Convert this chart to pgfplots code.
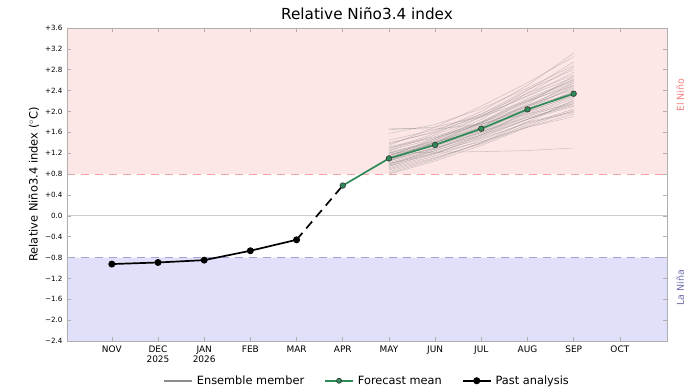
\documentclass[border=0pt]{standalone}
\usepackage{fontspec}
\setmainfont{DejaVu Sans}
\usepackage{pgfplots}
\pgfplotsset{compat=1.18}
\definecolor{ninofill}{HTML}{FDE6E6}
\definecolor{ninafill}{HTML}{E0E0FA}
\definecolor{ninoline}{HTML}{F4A3A3}
\definecolor{ninaline}{HTML}{A3A3D3}
\definecolor{ninotext}{HTML}{F08080}
\definecolor{ninatext}{HTML}{6A6AAA}
\definecolor{fcgreen}{HTML}{2E8B57}
\definecolor{frame}{HTML}{B0B0B0}
\begin{document}
\begin{tikzpicture}
\useasboundingbox (-67bp,-51bp) rectangle (628bp,341bp);
\begin{axis}[
  scale only axis, width=600bp, height=313bp,
  xmin=-0.97, xmax=12.02, ymin=-2.4, ymax=3.6,
  clip=false,
  axis on top,
  axis line style={frame},
  tick style={frame, line width=0.6pt},
  major tick length=4bp,
  tick align=inside,
  xtick={0,1,2,3,4,5,6,7,8,9,10,11},
  xticklabels={NOV,{DEC\\2025},{JAN\\2026},FEB,MAR,APR,MAY,JUN,JUL,AUG,SEP,OCT},
  xticklabel style={align=center, font=\fontsize{9}{10.5}\selectfont, yshift=-1bp},
  ytick={-2.4,-2.0,-1.6,-1.2,-0.8,-0.4,0,0.4,0.8,1.2,1.6,2.0,2.4,2.8,3.2,3.6},
  yticklabels={−2.4,−2.0,−1.6,−1.2,−0.8,−0.4,0.0,+0.4,+0.8,+1.2,+1.6,+2.0,+2.4,+2.8,+3.2,+3.6},
  yticklabel style={font=\fontsize{7.2}{8}\selectfont, xshift=-1bp},
  ylabel={Relative Niño3.4 index ($^\circ$C)},
  ylabel style={font=\fontsize{11.5}{13}\selectfont, yshift=-1bp},
  title={Relative Niño3.4 index},
  title style={font=\fontsize{15.3}{17}\selectfont, yshift=-1bp},
  legend columns=3,
  legend style={draw=none, fill=none, at={(0.5,-0.127)}, anchor=center,
    font=\fontsize{11.4}{13}\selectfont,
    /tikz/every odd column/.append style={column sep=2bp},
    /tikz/every even column/.append style={column sep=18bp}},
  legend image code/.code={\draw[mark repeat=2, mark phase=2, #1] plot coordinates {(0bp,0bp) (14bp,0bp) (28bp,0bp)};},
  legend cell align=left,
  ens/.style={forget plot, gray, opacity=0.36, line width=0.55pt},
]
% background regions
\addplot[forget plot, fill=ninofill, draw=none] coordinates {(-0.97,0.8) (12.02,0.8) (12.02,3.6) (-0.97,3.6)} \closedcycle;
\addplot[forget plot, fill=ninafill, draw=none] coordinates {(-0.97,-2.4) (12.02,-2.4) (12.02,-0.8) (-0.97,-0.8)} \closedcycle;
\addplot[forget plot, color=ninoline, line width=1pt, dash pattern=on 8bp off 6bp] coordinates {(-0.97,0.8) (12.02,0.8)};
\addplot[forget plot, color=ninaline, line width=1pt, dash pattern=on 8bp off 6bp] coordinates {(-0.97,-0.8) (12.02,-0.8)};
\addplot[forget plot, color=black!20, line width=0.8pt] coordinates {(-0.97,0) (12.02,0)};

\addlegendimage{black!45, line width=1.8pt}
\addlegendentry{Ensemble member}
\addlegendimage{fcgreen, line width=1.8pt, mark=*, mark size=2.6pt, mark options={fill=fcgreen, draw=black!80, line width=0.6pt}}
\addlegendentry{Forecast mean}
\addlegendimage{black, line width=1.8pt, mark=*, mark size=2.6pt}
\addlegendentry{Past analysis}

% ensemble members (MAY..SEP)
\addplot[ens] coordinates {(6,1.10) (7,1.35) (8,1.65) (9,2.00) (10,2.30)};
\addplot[ens] coordinates {(6,0.95) (7,1.20) (8,1.50) (9,1.85) (10,2.15)};
\addplot[ens] coordinates {(6,1.25) (7,1.55) (8,1.90) (9,2.30) (10,2.65)};
\addplot[ens] coordinates {(6,0.85) (7,1.10) (8,1.40) (9,1.75) (10,2.05)};
\addplot[ens] coordinates {(6,1.05) (7,1.40) (8,1.80) (9,2.25) (10,2.60)};
\addplot[ens] coordinates {(6,1.30) (7,1.50) (8,1.75) (9,2.05) (10,2.35)};
\addplot[ens] coordinates {(6,1.00) (7,1.25) (8,1.55) (9,1.90) (10,2.20)};
\addplot[ens] coordinates {(6,1.15) (7,1.45) (8,1.85) (9,2.35) (10,2.85)};
\addplot[ens] coordinates {(6,0.90) (7,1.15) (8,1.45) (9,1.80) (10,2.00)};
\addplot[ens] coordinates {(6,1.20) (7,1.40) (8,1.70) (9,2.10) (10,2.45)};
\addplot[ens] coordinates {(6,1.65) (7,1.70) (8,1.90) (9,2.20) (10,2.50)};
\addplot[ens] coordinates {(6,1.08) (7,1.30) (8,1.55) (9,1.85) (10,2.10)};
\addplot[ens] coordinates {(6,0.80) (7,1.05) (8,1.35) (9,1.70) (10,1.95)};
\addplot[ens] coordinates {(6,1.35) (7,1.70) (8,2.10) (9,2.55) (10,3.05)};
\addplot[ens] coordinates {(6,1.12) (7,1.38) (8,1.68) (9,2.02) (10,2.38)};
\addplot[ens] coordinates {(6,0.98) (7,1.28) (8,1.62) (9,2.05) (10,2.48)};
\addplot[ens] coordinates {(6,1.22) (7,1.42) (8,1.62) (9,1.88) (10,2.12)};
\addplot[ens] coordinates {(6,1.05) (7,1.32) (8,1.65) (9,2.08) (10,2.55)};
\addplot[ens] coordinates {(6,1.45) (7,1.65) (8,1.95) (9,2.35) (10,2.70)};
\addplot[ens] coordinates {(6,0.92) (7,1.18) (8,1.55) (9,2.00) (10,2.40)};
\addplot[ens] coordinates {(6,1.20) (7,1.22) (8,1.23) (9,1.25) (10,1.30)};
\addplot[ens] coordinates {(6,1.15) (7,1.48) (8,1.90) (9,2.40) (10,2.95)};
\addplot[ens] coordinates {(6,1.02) (7,1.28) (8,1.58) (9,1.92) (10,2.25)};
\addplot[ens] coordinates {(6,1.28) (7,1.58) (8,1.95) (9,2.42) (10,2.80)};
\addplot[ens] coordinates {(6,0.88) (7,1.12) (8,1.38) (9,1.72) (10,2.02)};
\addplot[ens] coordinates {(6,1.18) (7,1.35) (8,1.60) (9,1.95) (10,2.28)};
\addplot[ens] coordinates {(6,1.58) (7,1.75) (8,2.05) (9,2.45) (10,2.88)};
\addplot[ens] coordinates {(6,1.10) (7,1.42) (8,1.78) (9,2.20) (10,2.62)};
\addplot[ens] coordinates {(6,0.95) (7,1.22) (8,1.48) (9,1.78) (10,1.98)};
\addplot[ens] coordinates {(6,1.25) (7,1.48) (8,1.80) (9,2.22) (10,2.58)};
\addplot[ens] coordinates {(6,1.05) (7,1.30) (8,1.60) (9,1.98) (10,2.32)};
\addplot[ens] coordinates {(6,1.38) (7,1.62) (8,2.00) (9,2.50) (10,3.12)};
\addplot[ens] coordinates {(6,1.68) (7,1.66) (8,1.76) (9,1.95) (10,2.15)};
\addplot[ens] coordinates {(6,1.15) (7,1.40) (8,1.72) (9,2.12) (10,2.50)};
\addplot[ens] coordinates {(6,0.82) (7,1.08) (8,1.40) (9,1.80) (10,2.22)};
\addplot[ens] coordinates {(6,1.32) (7,1.52) (8,1.78) (9,2.12) (10,2.42)};
\addplot[ens] coordinates {(6,1.08) (7,1.35) (8,1.70) (9,2.15) (10,2.68)};
\addplot[ens] coordinates {(6,1.20) (7,1.45) (8,1.78) (9,2.18) (10,2.55)};
\addplot[ens] coordinates {(6,0.97) (7,1.25) (8,1.52) (9,1.85) (10,2.18)};
\addplot[ens] coordinates {(6,1.12) (7,1.40) (8,1.75) (9,2.10) (10,2.35)};
\addplot[ens] coordinates {(6,1.00) (7,1.20) (8,1.42) (9,1.70) (10,1.90)};
\addplot[ens] coordinates {(6,1.40) (7,1.60) (8,1.92) (9,2.30) (10,2.75)};

% past analysis
\addplot[forget plot, black, line width=1.7pt, mark=*, mark size=2.6pt] coordinates {(0,-0.925) (1,-0.895) (2,-0.85) (3,-0.67) (4,-0.46)};
\addplot[forget plot, black, line width=1.7pt, dash pattern=on 9bp off 6bp] coordinates {(4,-0.46) (5,0.58)};
% forecast mean
\addplot[forget plot, fcgreen, line width=1.7pt, mark=*, mark size=2.8pt, mark options={fill=fcgreen, draw=black!80, line width=0.6pt}] coordinates {(5,0.58) (6,1.10) (7,1.36) (8,1.67) (9,2.04) (10,2.34)};

\node[rotate=90, text=ninotext, font=\fontsize{9.5}{11}\selectfont] at (rel axis cs:1.022,0.785) {El Niño};
\node[rotate=90, text=ninatext, font=\fontsize{9.5}{11}\selectfont] at (rel axis cs:1.022,0.17) {La Niña};
\end{axis}
\end{tikzpicture}
\end{document}
